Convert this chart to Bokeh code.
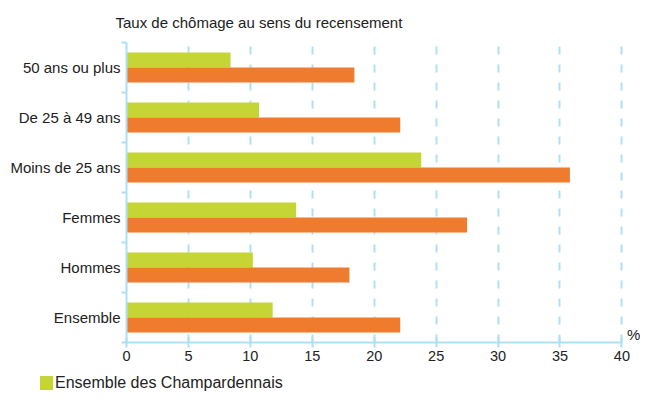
from bokeh.plotting import figure
from bokeh.layouts import column
from bokeh.models import (ColumnDataSource, Range1d, FixedTicker, Label, Div,
                          Title)
from bokeh.embed import file_html
from bokeh.resources import INLINE

# Data (bottom to top)
categories = ["Ensemble", "Hommes", "Femmes", "Moins de 25 ans",
              "De 25 à 49 ans", "50 ans ou plus"]
champardennais = [11.8, 10.2, 13.7, 23.8, 10.7, 8.4]
orange_series = [22.1, 18.0, 27.5, 35.8, 22.1, 18.4]
x_ticks = [0, 5, 10, 15, 20, 25, 30, 35, 40]
subtitle = "Taux de chômage au sens du recensement"
legend_label = "Ensemble des Champardennais"

GREEN = "#c5d536"
ORANGE = "#ee7b2e"
BLUE = "#aee0f5"
FONT = "Liberation Sans"

n = len(categories)
centers = [i + 0.5 for i in range(n)]
src = ColumnDataSource(dict(
    y=centers,
    yg=[c + 0.15 for c in centers],
    yo=[c - 0.15 for c in centers],
    g=champardennais,
    o=orange_series,
))

p = figure(width=640, height=367, output_backend="svg", toolbar_location=None,
           x_range=Range1d(0, 41.5), y_range=Range1d(0, n),
           min_border_left=126, min_border_right=0,
           min_border_top=42, min_border_bottom=25)
p.outline_line_color = None
p.background_fill_color = "white"

t = Title(text=subtitle, text_font=FONT, text_font_size="15px",
          text_font_style="normal", text_color="#222222", align="left",
          offset=-11, standoff=23)
p.add_layout(t, "above")

# grid
p.ygrid.grid_line_color = None
p.xgrid.ticker = FixedTicker(ticks=x_ticks[1:])
p.xgrid.grid_line_color = BLUE
p.xgrid.grid_line_width = 2
p.xgrid.grid_line_dash = "8 10"

gr = p.hbar(y="yg", right="g", left=0, height=0.3, source=src,
            fill_color=GREEN, line_color=None)
p.hbar(y="yo", right="o", left=0, height=0.3, source=src,
       fill_color=ORANGE, line_color=None)

# x axis
xa = p.xaxis[0]
xa.ticker = FixedTicker(ticks=x_ticks)
xa.bounds = (x_ticks[0], x_ticks[-1])
xa.axis_line_color = BLUE
xa.axis_line_width = 2
xa.major_tick_line_color = BLUE
xa.major_tick_line_width = 2
xa.major_tick_in = 5
xa.major_tick_out = 5
xa.minor_tick_line_color = None
xa.major_label_text_font = FONT
xa.major_label_text_font_size = "14.5px"
xa.major_label_text_color = "#222222"
xa.major_label_standoff = 3

# y axis
ya = p.yaxis[0]
ya.ticker = FixedTicker(ticks=centers, minor_ticks=list(range(n + 1)))
ya.major_label_overrides = {c: lab for c, lab in zip(centers, categories)}
ya.axis_line_color = BLUE
ya.axis_line_width = 2
ya.major_tick_line_color = None
ya.major_tick_in = 0
ya.major_tick_out = 0
ya.minor_tick_line_color = BLUE
ya.minor_tick_line_width = 2
ya.minor_tick_in = 0
ya.minor_tick_out = 5
ya.major_label_text_font = FONT
ya.major_label_text_font_size = "15px"
ya.major_label_text_color = "#222222"
ya.major_label_standoff = 1

pct = Label(x=x_ticks[-1], y=0, text="%", x_offset=5, y_offset=0,
            text_font=FONT, text_font_size="15px", text_color="#222222",
            text_baseline="bottom")
p.add_layout(pct)

# legend strip
legend_html = (
    '<div style="display:flex;align-items:center;margin:0;padding:9px 0 0 40px;'
    f'font-family:\'{FONT}\';font-size:16px;color:#222222;line-height:14px;">'
    f'<span style="display:inline-block;width:13px;height:14px;background:{GREEN};'
    f'margin-right:2px;"></span>{legend_label}</div>'
)
lg = Div(text=legend_html, width=640, height=28, margin=(0, 0, 0, 0))

layout = column(p, lg, spacing=0)
open("out.html", "w").write(file_html(layout, INLINE))
